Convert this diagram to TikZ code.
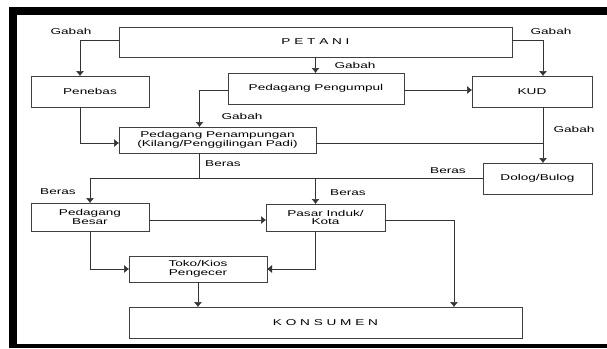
\documentclass[tikz,border=0pt]{standalone}
\usepackage{fontspec}
\setmainfont{Liberation Sans}[FakeStretch=1.6]
\usetikzlibrary{positioning,calc,arrows.meta}

\begin{document}
\begin{tikzpicture}[x=1pt,y=-1pt,
    >={Latex[length=5pt,width=8pt]},
    box/.style={draw=black!75, line width=0.6pt, inner sep=1pt, outer sep=0pt,
        align=center, font=\fontsize{8.5}{8.5}\selectfont},
    tag/.style={inner sep=0pt, font=\fontsize{8.5}{8.5}\selectfont},
    wire/.style={draw=black!80, line width=0.5pt}]

\useasboundingbox (0,0) rectangle (607,348);

% Frame
\fill (9,7) rectangle (607,15);
\fill (9,7) rectangle (17,348);
\fill (9,344) rectangle (607,348);

% Top row
\node[box,
    minimum width=393pt,
    minimum height=30pt] (petani) at (315.5,42) {P E T A N I};

\node[box,
    minimum width=118pt,
    minimum height=31pt] (penebas) at (90,91.5) {Penebas};

\node[box,
    minimum width=176pt,
    minimum height=31pt] (pengumpul) at (316,88.5) {Pedagang Pengumpul};

\node[box,
    minimum width=120pt,
    minimum height=31pt] (kud) at (532,91.5) {KUD};

% Middle row
\node[box,
    minimum width=197pt,
    minimum height=26pt] (penampungan) at (217.5,140)
    {Pedagang Penampungan\\(Kilang/Penggilingan Padi)};

\node[box,
    minimum width=109pt,
    minimum height=31pt] (dolog) at (537.5,178.5) {Dolog/Bulog};

\node[box,
    minimum width=118pt,
    minimum height=28pt] (besar) at (90,217) {Pedagang\\Besar};

\node[box,
    minimum width=119pt,
    minimum height=27pt] (pasar) at (325.5,217.5) {Pasar Induk/\\Kota};

% Bottom row
\node[box,
    minimum width=138pt,
    minimum height=26pt] (toko) at (198,269) {Toko/Kios\\Pengecer};

\node[box,
    minimum width=393pt,
    minimum height=31pt] (konsumen) at (325.5,322.5) {K O N S U M E N};

% Labels
\node[tag] (gabah1) at (71,31) {Gabah};
\node[tag] (gabah2) at (355,65) {Gabah};
\node[tag] (gabah3) at (551,31) {Gabah};
\node[tag] (gabah4) at (242,116) {Gabah};
\node[tag] (gabah5) at (574,129) {Gabah};
\node[tag] (beras1) at (223,164) {Beras};
\node[tag] (beras2) at (448,171) {Beras};
\node[tag] (beras3) at (58,192) {Beras};
\node[tag] (beras4) at (348,193) {Beras};

% Helper points
\coordinate (kudout) at ($(kud.south)+(11,0)$);
\coordinate (penin) at ($(penampungan.north)+(-18,0)$);
\coordinate (penout) at ($(penampungan.south)+(-18,0)$);
\coordinate (pasarin) at ($(pasar.north)+(-10,0)$);
\coordinate (pasarout) at ($(pasar.south)+(-10,0)$);

% Arrows
\draw[wire,->] ($(petani.west)+(0,-2)$) -| ($(penebas.north)+(-10,0)$);
\draw[wire,->] (petani.south) -- (petani.south |- pengumpul.north);
\draw[wire,->] ($(petani.east)+(0,-2)$) -| ($(kud.north)+(11,0)$);
\draw[wire,->] ($(pengumpul.west)+(0,1.5)$) -| (penin);
\draw[wire,->] ($(pengumpul.east)+(0,1.5)$) -- ($(pengumpul.east -| kud.west)+(0,1.5)$);
\draw[wire,->] ($(penebas.south)+(-10,0)$) |- ($(penampungan.west)+(0,3)$);
\draw[wire,->] (kudout) -- (kudout |- dolog.north);
\draw[wire] ($(penampungan.east)+(0,3)$) -- ($(penampungan.east -| kudout)+(0,3)$);
\draw[wire] (penout) -- (penout |- dolog.west);
\draw[wire,<-] (besar.north) |- (dolog.west);
\draw[wire,->] (pasarin |- dolog.west) -- (pasarin);
\draw[wire,->] ($(besar.east)+(0,3)$) -- ($(besar.east -| pasar.west)+(0,3)$);
\draw[wire,->] (besar.south) |- (toko.west);
\draw[wire,->] (pasarout) |- (toko.east);
\draw[wire,->] (toko.south) -- (toko.south |- konsumen.north);
\draw[wire,->] ($(pasar.east)+(0,3)$) -| ($(konsumen.north)+(128.5,0)$);

\end{tikzpicture}
\end{document}
